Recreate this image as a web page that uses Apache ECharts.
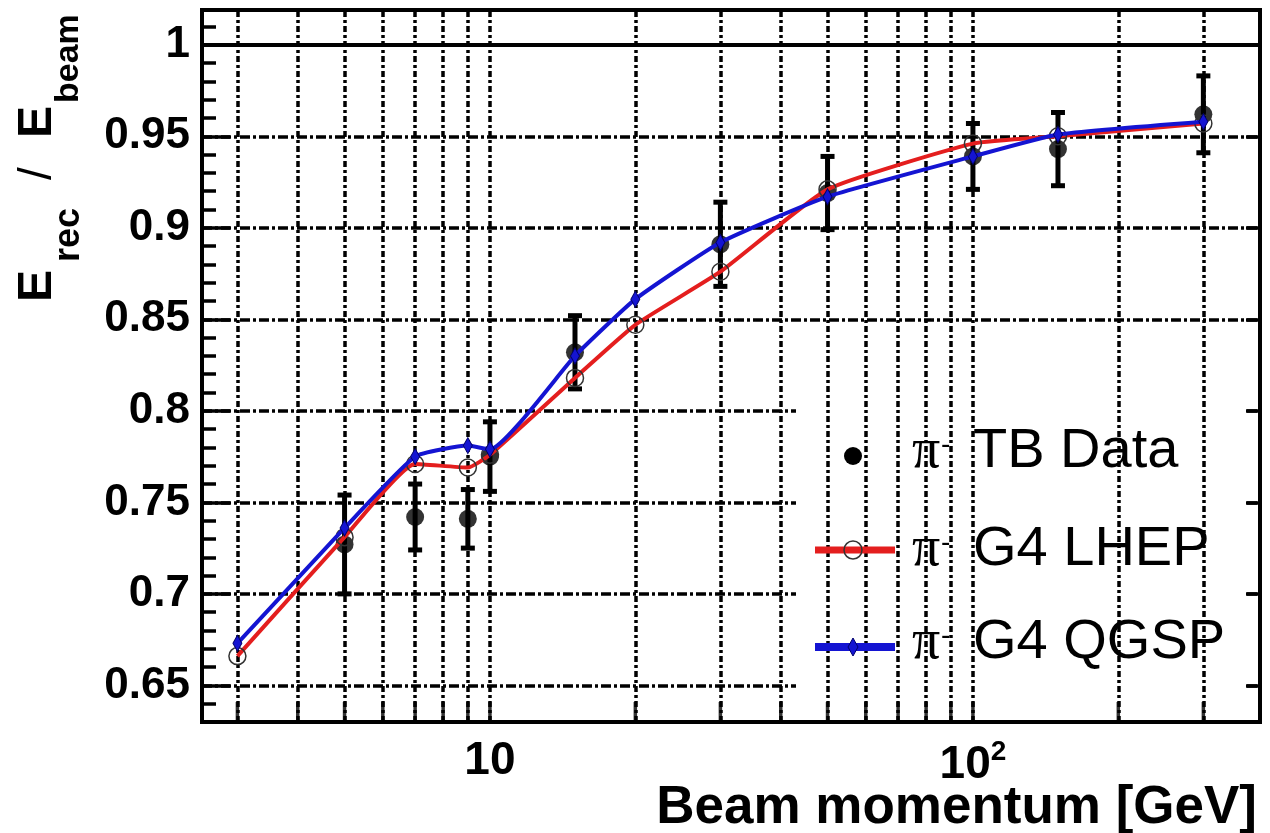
<!DOCTYPE html>
<html><head><meta charset="utf-8">
<script src="https://cdn.jsdelivr.net/npm/echarts@6/dist/echarts.min.js"></script>
<style>html,body{margin:0;padding:0;background:#fff}#c{width:1270px;height:833px}</style>
</head><body><div id="c"></div>
<script>
// ---- data ----
const simMomentum = [3, 5, 7, 9, 10, 15, 20, 30, 50, 100, 150, 300];
const lhep = [0.666, 0.731, 0.771, 0.769, 0.776, 0.818, 0.847, 0.876, 0.921, 0.946, 0.950, 0.957];
const qgsp = [0.673, 0.736, 0.775, 0.781, 0.779, 0.830, 0.861, 0.892, 0.917, 0.939, 0.951, 0.958];
const dataMomentum = [5, 7, 9, 10, 15, 30, 50, 100, 150, 300];
const tbData = [0.727, 0.742, 0.741, 0.775, 0.832, 0.891, 0.919, 0.939, 0.943, 0.962];
const tbErr  = [0.027, 0.018, 0.016, 0.019, 0.020, 0.023, 0.020, 0.018, 0.020, 0.021];
const xGridTicks = [3, 4, 5, 6, 7, 8, 9, 10, 20, 30, 40, 50, 60, 70, 80, 90, 100, 200, 300];
const xRange = [2.534, 393];
const yRange = [0.63, 1.019];
const legendNames = ['TB Data', 'G4 LHEP', 'G4 QGSP'];

const RED = '#e41e1e', BLUE = '#1414d2';
const SANS = "'Liberation Sans', Arial, Helvetica, sans-serif";
const SERIF = "'Liberation Serif', 'Times New Roman', serif";

const chart = echarts.init(document.getElementById('c'), null, {renderer: 'canvas'});

function isPow10(v) {
  const l = Math.log10(v);
  return Math.abs(l - Math.round(l)) < 1e-6;
}

const yTitle = [
  {t: 'E', x: 38, y: 302, fs: 48, w: 'bold'},
  {t: 'rec', x: 69, y: 262, fs: 36, w: 'bold'},
  {t: '/', x: 38, y: 180, fs: 46, w: 'normal'},
  {t: 'E', x: 38, y: 138, fs: 48, w: 'bold'},
  {t: 'beam', x: 69, y: 103, fs: 34, w: 'bold'}
].map(p => ({
  type: 'text', x: p.x, y: p.y, rotation: Math.PI / 2, z: 20, silent: true,
  style: {text: p.t, fontSize: p.fs, fontWeight: p.w, fontFamily: SANS, fill: '#000', align: 'left', verticalAlign: 'middle'}
}));

const legendRowsY = [452, 550, 643];
const legendGraphics = [
  {type: 'rect', left: 796, top: 403, shape: {width: 450, height: 294}, style: {fill: '#fff'}, z: 3, silent: true},
  {type: 'circle', shape: {cx: 853, cy: 456, r: 9}, style: {fill: '#000'}, z: 20, silent: true},
  {type: 'line', shape: {x1: 815, y1: 550, x2: 895, y2: 550}, style: {stroke: RED, lineWidth: 7}, z: 20, silent: true},
  {type: 'circle', shape: {cx: 853, cy: 550, r: 9}, style: {fill: 'none', stroke: '#333', lineWidth: 1.5}, z: 21, silent: true},
  {type: 'line', shape: {x1: 815, y1: 647, x2: 895, y2: 647}, style: {stroke: BLUE, lineWidth: 8}, z: 20, silent: true},
  {type: 'polygon', shape: {points: [[853, 638], [858, 647], [853, 656], [848, 647]]}, style: {fill: BLUE, stroke: '#00006a', lineWidth: 1}, z: 21, silent: true}
];
legendNames.forEach((name, i) => {
  const y = legendRowsY[i];
  legendGraphics.push(
    {type: 'text', x: 912, y: y, z: 20, silent: true,
     style: {text: 'π', fontSize: 56, fontFamily: SERIF, fill: '#000', align: 'left', verticalAlign: 'middle'}},
    {type: 'text', x: 941, y: y - 7, z: 20, silent: true,
     style: {text: '-', fontSize: 28, fontFamily: SANS, fill: '#000', align: 'left', verticalAlign: 'middle'}},
    {type: 'text', x: 973, y: y, z: 20, silent: true,
     style: {text: name, fontSize: 56, fontFamily: SANS, fill: '#000', align: 'left', verticalAlign: 'middle'}}
  );
});

const option = {
  animation: false,
  backgroundColor: '#fff',
  grid: {left: 202, right: 10, top: 10, bottom: 111, containLabel: false, outerBoundsMode: 'none',
         show: true, borderColor: '#000', borderWidth: 4, backgroundColor: 'transparent'},
  xAxis: {
    type: 'log', logBase: 10, min: xRange[0], max: xRange[1],
    axisLine: {show: true, lineStyle: {color: '#000', width: 4}},
    axisTick: {show: false},
    splitLine: {show: false},
    axisLabel: {
      color: '#000', fontSize: 46, fontWeight: 'bold', fontFamily: SANS, margin: 16,
      rich: {sup: {fontSize: 28, fontWeight: 'bold', fontFamily: SANS, color: '#000', padding: [0, 0, 26, 0]}},
      formatter: v => {
        if (!isPow10(v)) return '';
        const e = Math.round(Math.log10(v));
        return e === 1 ? '10' : '10{sup|' + e + '}';
      }
    }
  },
  yAxis: [
    {
      type: 'value', min: yRange[0], max: yRange[1], splitNumber: 8, minInterval: 0.05, maxInterval: 0.05,
      axisLine: {show: true, lineStyle: {color: '#000', width: 4}},
      axisTick: {show: true, inside: true, length: 28, lineStyle: {color: '#000', width: 3.5}},
      axisLabel: {
        color: '#000', fontSize: 44, fontWeight: 'bold', fontFamily: SANS, margin: 12,
        formatter: v => (Math.abs(v * 20 - Math.round(v * 20)) < 1e-6) ? String(+v.toFixed(2)) : ''
      },
      splitLine: {show: true, lineStyle: {color: '#000', width: 3.5, type: [10, 3, 3, 3]}}
    },
    {
      type: 'value', min: yRange[0], max: yRange[1], interval: 0.01, position: 'left',
      axisLine: {show: false},
      axisTick: {show: true, inside: true, length: 14, lineStyle: {color: '#000', width: 3.5}},
      axisLabel: {show: false}, splitLine: {show: false}
    },
    {
      type: 'value', min: yRange[0], max: yRange[1], splitNumber: 8, minInterval: 0.05, maxInterval: 0.05, position: 'right',
      axisLine: {show: false},
      axisTick: {show: true, inside: true, length: 14, lineStyle: {color: '#000', width: 3.5}},
      axisLabel: {show: false}, splitLine: {show: false}
    }
  ],
  graphic: [
    ...legendGraphics,
    ...yTitle,
    {type: 'text', x: 1257, y: 808, z: 20, silent: true,
     style: {text: 'Beam momentum [GeV]', fontSize: 53, fontWeight: 'bold', fontFamily: SANS, fill: '#000', align: 'right', verticalAlign: 'middle'}}
  ],
  series: [
    {
      name: 'grid', type: 'scatter', z: 1, silent: true, clip: false, symbolSize: 0,
      data: xGridTicks.map(v => [v, yRange[0]]),
      markLine: {
        silent: true, symbol: ['none', 'none'], label: {show: false}, animation: false,
        lineStyle: {color: '#000', width: 3.5, type: [6, 3, 3, 3]},
        data: xGridTicks.map(v => ({xAxis: v})).concat([
          {yAxis: 1, lineStyle: {color: '#000', width: 4, type: 'solid'}}
        ])
      }
    },
    {
      name: 'ticks', type: 'scatter', z: 10, silent: true, clip: false,
      symbol: 'rect', symbolSize: [3.5, 20], symbolOffset: [0, -10],
      itemStyle: {color: '#000'},
      data: xGridTicks.map(v => [v, yRange[0]])
    },
    {
      name: 'errors', type: 'custom', z: 4, silent: true, clip: false,
      data: dataMomentum.map((x, i) => [x, tbData[i] - tbErr[i], tbData[i] + tbErr[i]]),
      encode: {x: 0, y: [1, 2]},
      renderItem: (params, api) => {
        const x = api.value(0);
        const lo = api.coord([x, api.value(1)]);
        const hi = api.coord([x, api.value(2)]);
        const cw = 7;
        const st = {stroke: '#000', lineWidth: 5};
        return {type: 'group', children: [
          {type: 'line', shape: {x1: lo[0], y1: lo[1], x2: hi[0], y2: hi[1]}, style: st},
          {type: 'line', shape: {x1: lo[0] - cw, y1: lo[1], x2: lo[0] + cw, y2: lo[1]}, style: st},
          {type: 'line', shape: {x1: hi[0] - cw, y1: hi[1], x2: hi[0] + cw, y2: hi[1]}, style: st}
        ]};
      }
    },
    {
      name: legendNames[0], type: 'scatter', z: 4, silent: true,
      symbol: 'circle', symbolSize: 18, itemStyle: {color: '#000'},
      data: dataMomentum.map((x, i) => [x, tbData[i]])
    },
    {
      name: legendNames[1], type: 'line', z: 5, silent: true, smooth: 0.15,
      lineStyle: {color: RED, width: 4},
      symbol: 'circle', symbolSize: 17,
      itemStyle: {color: 'rgba(0,0,0,0)', borderColor: '#333', borderWidth: 1.5},
      data: simMomentum.map((x, i) => [x, lhep[i]])
    },
    {
      name: legendNames[2], type: 'line', z: 6, silent: true, smooth: 0.15,
      lineStyle: {color: BLUE, width: 4},
      symbol: 'diamond', symbolSize: [9, 16],
      itemStyle: {color: BLUE, borderColor: '#00006a', borderWidth: 1},
      data: simMomentum.map((x, i) => [x, qgsp[i]])
    }
  ]
};
chart.setOption(option);
</script>
</body></html>
